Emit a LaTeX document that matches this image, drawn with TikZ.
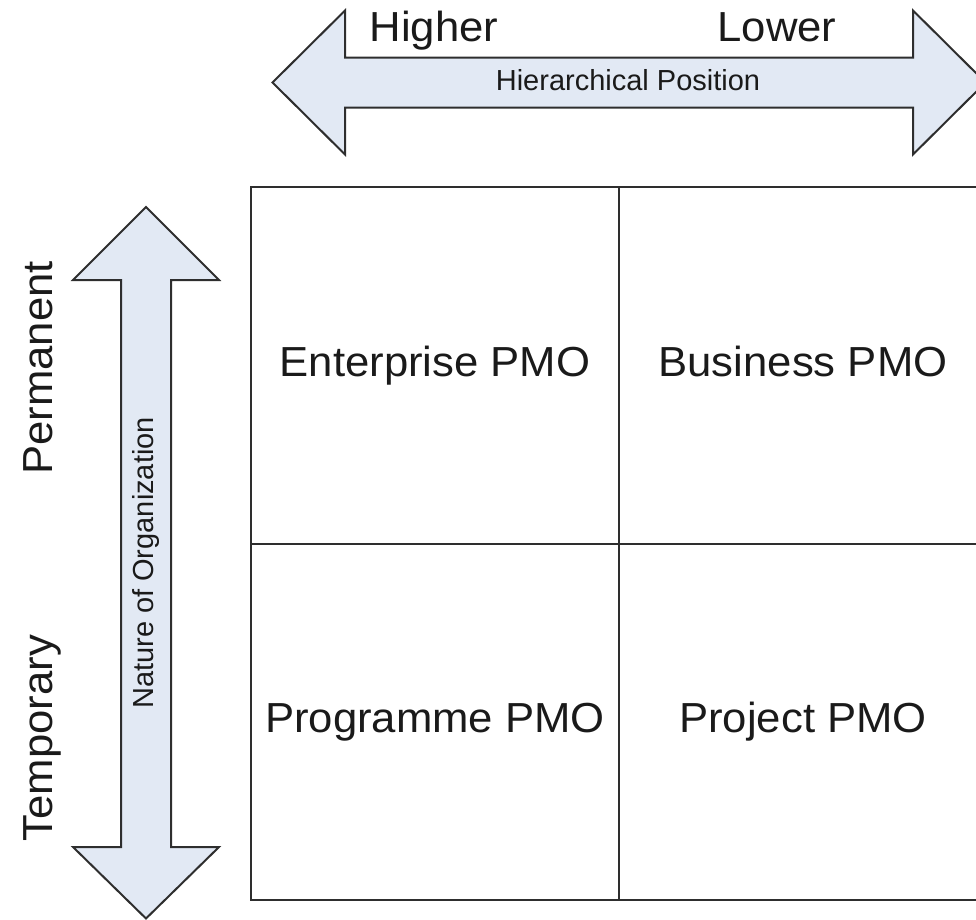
\documentclass[tikz,border=0pt]{standalone}
\usepackage{fontspec}
\setmainfont{Liberation Sans}
\definecolor{arrowfill}{HTML}{E2E9F4}
\definecolor{edgegray}{HTML}{2E2E2E}
\definecolor{ink}{HTML}{1A1A1A}
\newcommand{\widetext}[1]{\scalebox{1.04}[1]{#1}}
\begin{document}
\begin{tikzpicture}[x=1pt,y=-1pt,
  arrowshape/.style={draw=edgegray, fill=arrowfill, line width=2pt, line join=miter},
  cell/.style={draw=edgegray, line width=2.4pt, minimum width=368pt, minimum height=357pt,
               inner sep=0pt, text=ink, font=\fontsize{42}{50}\selectfont,
               text height=30pt, text depth=9pt},
  bigtext/.style={text=ink, font=\fontsize{42}{50}\selectfont, inner sep=0pt, anchor=base},
  smalltext/.style={text=ink, font=\fontsize{29}{35}\selectfont, inner sep=0pt, anchor=base}]
\useasboundingbox (0,0) rectangle (976,919);
\clip (0,0) rectangle (976,919);
% horizontal double arrow
\draw[arrowshape] (272.5,82.5) -- (345,10.5) -- (345,57.5) -- (913,57.5) -- (913,10.5)
  -- (985.5,82.5) -- (913,154.5) -- (913,107.5) -- (345,107.5) -- (345,154.5) -- cycle;
% vertical double arrow
\draw[arrowshape] (146,207) -- (219,280) -- (171,280) -- (171,847) -- (219,847)
  -- (146,918.5) -- (73,847) -- (121,847) -- (121,280) -- (73,280) -- cycle;
% grid cells
\node[cell] (ent)  at (435,365.5) {\widetext{Enterprise PMO}};
\node[cell] (bus)  at (803,365.5) {\widetext{Business PMO}};
\node[cell, minimum height=356pt] (prog) at (435,722) {\widetext{Programme PMO}};
\node[cell, minimum height=356pt] (proj) at (803,722) {\widetext{Project PMO}};
% labels
\node[bigtext] (higher) at (434,41) {\widetext{Higher}};
\node[bigtext] (lower) at (777,41.5) {\widetext{Lower}};
\node[smalltext] (hier) at (628,90) {Hierarchical Position};
\node[bigtext, rotate=90] (perm) at (52,368) {\widetext{Permanent}};
\node[bigtext, rotate=90] (temp) at (52,738) {\widetext{Temporary}};
\node[smalltext, rotate=90] (nature) at (153,563) {Nature of Organization};
\end{tikzpicture}
\end{document}
